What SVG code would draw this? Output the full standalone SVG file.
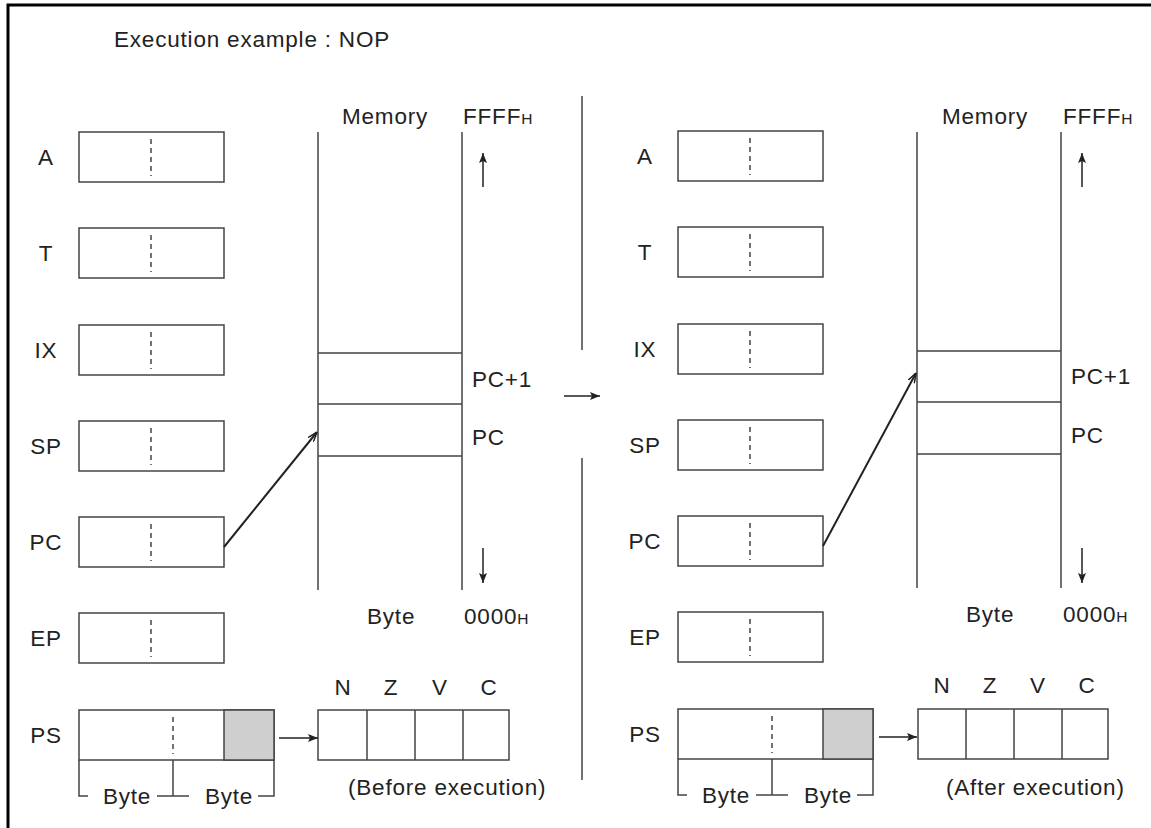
<svg xmlns="http://www.w3.org/2000/svg" width="1151" height="828" viewBox="0 0 1151 828">
<style>
text{font-family:"Liberation Sans",Arial,sans-serif;font-size:22.5px;letter-spacing:0.8px;fill:#222}
.sm{font-size:15.5px;letter-spacing:0}
.mid{text-anchor:middle}
.box{fill:#fff;stroke:#444;stroke-width:1.5}
.ln{stroke:#444;stroke-width:1.5;fill:none}
.dash{stroke:#444;stroke-width:1.5;stroke-dasharray:5,4}
.gray{fill:#cfcfcf;stroke:#444;stroke-width:1.5}
.arr{stroke:#222;stroke-width:1.5;fill:none;marker-end:url(#fa)}
.parr{stroke:#222;stroke-width:2;fill:none;marker-end:url(#oa)}
</style>
<defs>
<marker id="fa" viewBox="0 0 10 8" refX="10" refY="4" markerWidth="10" markerHeight="8" markerUnits="userSpaceOnUse" orient="auto">
<path d="M0,0 L10,4 L0,8 L2,4 Z" fill="#222"/>
</marker>
<marker id="oa" viewBox="0 0 10 8" refX="10" refY="4" markerWidth="10" markerHeight="8" markerUnits="userSpaceOnUse" orient="auto">
<path d="M0,0.5 L10,4 L0,7.5" fill="none" stroke="#222" stroke-width="1.5"/>
</marker>
</defs>
<rect width="1151" height="828" fill="#fff"/>
<path d="M8,828 V5 H1151" fill="none" stroke="#000" stroke-width="3"/>
<text x="114" y="47">Execution example : NOP</text>

<!-- LEFT PANEL -->
<g id="left-registers">
<g id="L-A"><text class="mid" x="46" y="165">A</text><rect class="box" x="79" y="132" width="145" height="50"/><line class="dash" x1="151" y1="139" x2="151" y2="176"/></g>
<g id="L-T"><text class="mid" x="46" y="261">T</text><rect class="box" x="79" y="228" width="145" height="50"/><line class="dash" x1="151" y1="235" x2="151" y2="272"/></g>
<g id="L-IX"><text class="mid" x="46" y="358">IX</text><rect class="box" x="79" y="325" width="145" height="50"/><line class="dash" x1="151" y1="332" x2="151" y2="369"/></g>
<g id="L-SP"><text class="mid" x="46" y="454">SP</text><rect class="box" x="79" y="421" width="145" height="50"/><line class="dash" x1="151" y1="428" x2="151" y2="465"/></g>
<g id="L-PC"><text class="mid" x="46" y="550">PC</text><rect class="box" x="79" y="517" width="145" height="50"/><line class="dash" x1="151" y1="524" x2="151" y2="561"/></g>
<g id="L-EP"><text class="mid" x="46" y="646">EP</text><rect class="box" x="79" y="613" width="145" height="50"/><line class="dash" x1="151" y1="620" x2="151" y2="657"/></g>
<g id="L-PS"><text class="mid" x="46" y="743">PS</text><rect class="box" x="79" y="710" width="195" height="50"/><rect class="gray" x="224" y="710" width="50" height="50"/><line class="dash" x1="173" y1="717" x2="173" y2="754"/>
<path class="ln" d="M79,760 V796 H88 M173,760 V796 M157,796 H189 M274,760 V796 H258"/>
<text class="mid" x="127" y="804">Byte</text><text class="mid" x="229" y="804">Byte</text></g>
</g>
<g id="L-memory">
<path class="ln" d="M318,132 V590 M462,132 V590 M318,353 H462 M318,404 H462 M318,456 H462"/>
<text x="342" y="124">Memory</text>
<text x="463" y="124">FFFF<tspan class="sm">H</tspan></text>
<text x="472" y="387">PC+1</text>
<text x="472" y="445">PC</text>
<text x="367" y="624">Byte</text>
<text x="464" y="624">0000<tspan class="sm">H</tspan></text>
</g>
<g id="L-flags">
<rect class="box" x="318" y="710" width="191" height="50"/>
<path class="ln" d="M367,710 V760 M415,710 V760 M463,710 V760"/>
<text class="mid" x="343" y="695">N</text><text class="mid" x="391" y="695">Z</text><text class="mid" x="440" y="695">V</text><text class="mid" x="489" y="695">C</text>
<text x="348" y="795">(Before execution)</text>
</g>

<!-- SEPARATOR -->
<g id="separator">
<path class="ln" d="M582,96 V350 M582,458 V780"/>
</g>

<!-- RIGHT PANEL -->
<g id="right-registers">
<g id="R-A"><text class="mid" x="645" y="164">A</text><rect class="box" x="678" y="131" width="145" height="50"/><line class="dash" x1="750" y1="138" x2="750" y2="175"/></g>
<g id="R-T"><text class="mid" x="645" y="260">T</text><rect class="box" x="678" y="227" width="145" height="50"/><line class="dash" x1="750" y1="234" x2="750" y2="271"/></g>
<g id="R-IX"><text class="mid" x="645" y="357">IX</text><rect class="box" x="678" y="324" width="145" height="50"/><line class="dash" x1="750" y1="331" x2="750" y2="368"/></g>
<g id="R-SP"><text class="mid" x="645" y="453">SP</text><rect class="box" x="678" y="420" width="145" height="50"/><line class="dash" x1="750" y1="427" x2="750" y2="464"/></g>
<g id="R-PC"><text class="mid" x="645" y="549">PC</text><rect class="box" x="678" y="516" width="145" height="50"/><line class="dash" x1="750" y1="523" x2="750" y2="560"/></g>
<g id="R-EP"><text class="mid" x="645" y="645">EP</text><rect class="box" x="678" y="612" width="145" height="50"/><line class="dash" x1="750" y1="619" x2="750" y2="656"/></g>
<g id="R-PS"><text class="mid" x="645" y="742">PS</text><rect class="box" x="678" y="709" width="195" height="50"/><rect class="gray" x="823" y="709" width="50" height="50"/><line class="dash" x1="772" y1="716" x2="772" y2="753"/>
<path class="ln" d="M678,759 V795 H687 M772,759 V795 M756,795 H788 M873,759 V795 H857"/>
<text class="mid" x="726" y="803">Byte</text><text class="mid" x="828" y="803">Byte</text></g>
</g>
<g id="R-memory">
<path class="ln" d="M917,132 V588 M1061,132 V588 M917,351 H1061 M917,402 H1061 M917,454 H1061"/>
<text x="942" y="124">Memory</text>
<text x="1063" y="124">FFFF<tspan class="sm">H</tspan></text>
<text x="1071" y="384">PC+1</text>
<text x="1071" y="443">PC</text>
<text x="966" y="622">Byte</text>
<text x="1063" y="622">0000<tspan class="sm">H</tspan></text>
</g>
<g id="R-flags">
<rect class="box" x="918" y="709" width="190" height="50"/>
<path class="ln" d="M966,709 V759 M1014,709 V759 M1062,709 V759"/>
<text class="mid" x="942" y="693">N</text><text class="mid" x="990" y="693">Z</text><text class="mid" x="1038" y="693">V</text><text class="mid" x="1087" y="693">C</text>
<text x="946" y="795">(After execution)</text>
</g>

<!-- CONNECTORS -->
<g id="connectors">
<line class="arr" x1="483" y1="187" x2="483" y2="153"/>
<line class="arr" x1="483" y1="548" x2="483" y2="583"/>
<line class="arr" x1="1082" y1="187" x2="1082" y2="153"/>
<line class="arr" x1="1082" y1="548" x2="1082" y2="583"/>
<line class="parr" x1="224" y1="547" x2="317" y2="432"/>
<line class="parr" x1="823" y1="546" x2="916" y2="373"/>
<line class="arr" x1="279" y1="738" x2="318" y2="738"/>
<line class="arr" x1="879" y1="737" x2="917" y2="737"/>
<line class="arr" x1="564" y1="396" x2="600" y2="396"/>
</g>
</svg>
